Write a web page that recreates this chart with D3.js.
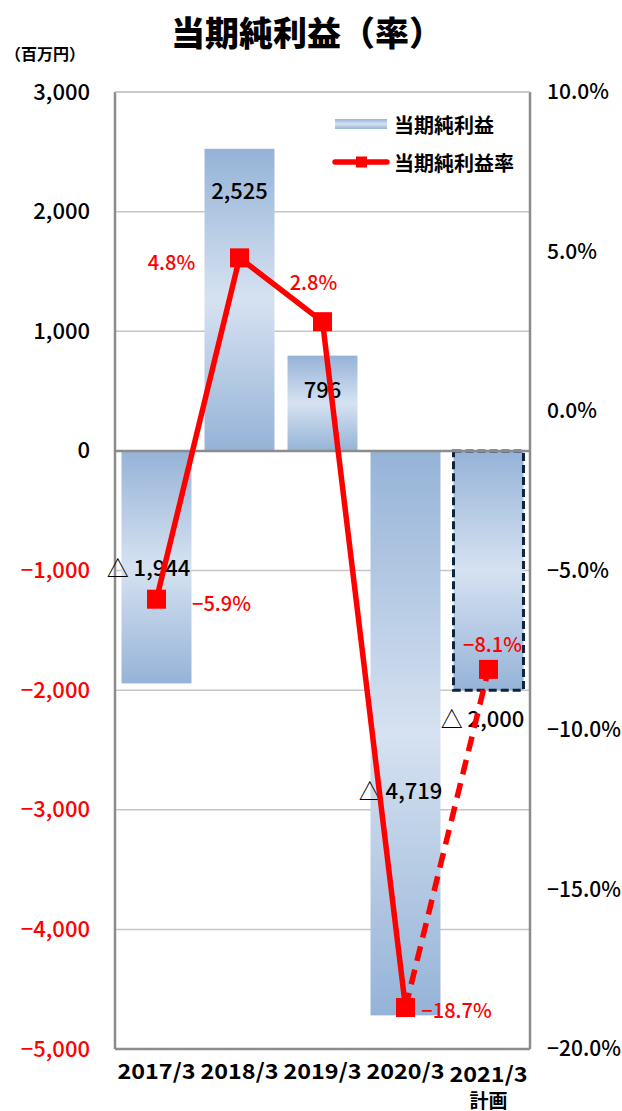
<!DOCTYPE html>
<html>
<head>
<meta charset="utf-8">
<script src="https://cdn.jsdelivr.net/npm/d3@7"></script>
<style>
  body { margin: 0; background: #fff; }
  svg text { font-family: "Noto Sans CJK JP", "Noto Sans", sans-serif; }
</style>
</head>
<body>
<div id="chart"></div>
<script>
// data
const categories = ["2017/3", "2018/3", "2019/3", "2020/3", "2021/3"];
const tickLabels = ["2017/3", "2018/3", "2019/3", "2020/3", "2021/3"];
const subLabels = ["", "", "", "", "計画"];
const netIncome = [-1944, 2525, 796, -4719, -2000];      // 百万円
const netIncomeRate = [-5.9, 4.8, 2.8, -18.7, -8.1];     // %
const incomeLabels = ["△ 1,944", "2,525", "796", "△ 4,719", "△ 2,000"];
const rateLabels = ["−5.9%", "4.8%", "2.8%", "−18.7%", "−8.1%"];
const isPlan = [false, false, false, false, true];
const leftTicks = [3000, 2000, 1000, 0, -1000, -2000, -3000, -4000, -5000];
const rightTicks = [10, 5, 0, -5, -10, -15, -20];

// label nudges (px), hand placed like in the original
const incomeNudge = [[-8, -117], [0, 40], [0, 32], [-5, -226], [-6, 27]];
const rateNudge = [[65, 3], [-68, 4], [-9, -40], [51, 2], [4, -26]];

const W = 622, H = 1111;
const plot = {left: 115, right: 530, top: 92, bottom: 1049};

const svg = d3.select("#chart").append("svg")
  .attr("width", W).attr("height", H);

const defs = svg.append("defs");
const grad = defs.append("linearGradient")
  .attr("id", "barGrad").attr("x1", 0).attr("y1", 0).attr("x2", 0).attr("y2", 1);
grad.append("stop").attr("offset", "0%").attr("stop-color", "#95b3d7");
grad.append("stop").attr("offset", "50%").attr("stop-color", "#d6e2f1");
grad.append("stop").attr("offset", "100%").attr("stop-color", "#95b3d7");

const x = d3.scaleBand()
  .domain(categories)
  .range([plot.left, plot.right])
  .paddingInner(0.157)
  .paddingOuter(0.0785);

const yL = d3.scaleLinear().domain([-5000, 3000]).range([plot.bottom, plot.top]);
const yR = d3.scaleLinear().domain([-20, 10]).range([plot.bottom, plot.top]);

// title
svg.append("text")
  .attr("x", 307).attr("y", 31)
  .attr("text-anchor", "middle").attr("dominant-baseline", "central")
  .attr("font-size", 34).attr("font-weight", 900)
  .text("当期純利益（率）");

svg.append("text")
  .attr("x", 5).attr("y", 53)
  .attr("dominant-baseline", "central")
  .attr("font-size", 16).attr("font-weight", 700)
  .text("（百万円）");

// gridlines
svg.append("g")
  .selectAll("line")
  .data(leftTicks.filter(d => d !== 0 && d !== -5000))
  .join("line")
  .attr("x1", plot.left).attr("x2", plot.right)
  .attr("y1", d => yL(d)).attr("y2", d => yL(d))
  .attr("stroke", "#c6c6c6").attr("stroke-width", 1.5);

// bars
svg.append("g")
  .selectAll("rect")
  .data(categories)
  .join("rect")
  .attr("x", d => x(d))
  .attr("width", x.bandwidth())
  .attr("y", (d, i) => yL(Math.max(0, netIncome[i])))
  .attr("height", (d, i) => Math.abs(yL(netIncome[i]) - yL(0)))
  .attr("fill", "url(#barGrad)")
  .attr("stroke", (d, i) => isPlan[i] ? "#0f243e" : "none")
  .attr("stroke-width", 3)
  .attr("stroke-dasharray", "8,4");

// frame and zero line
const frame = svg.append("g").attr("stroke", "#8c8c8c").attr("stroke-width", 2.5).attr("fill", "none");
frame.append("line").attr("x1", plot.left).attr("x2", plot.left).attr("y1", plot.top).attr("y2", plot.bottom);
frame.append("line").attr("x1", plot.right).attr("x2", plot.right).attr("y1", plot.top).attr("y2", plot.bottom);
frame.append("line").attr("x1", plot.left).attr("x2", plot.right).attr("y1", plot.bottom).attr("y2", plot.bottom);
frame.append("line").attr("x1", plot.left).attr("x2", plot.right).attr("y1", yL(0)).attr("y2", yL(0));
svg.append("line").attr("x1", plot.left).attr("x2", plot.right)
  .attr("y1", plot.top).attr("y2", plot.top)
  .attr("stroke", "#c6c6c6").attr("stroke-width", 1.5);

// bar value labels
svg.append("g")
  .selectAll("text")
  .data(categories)
  .join("text")
  .attr("x", (d, i) => x(d) + x.bandwidth() / 2 + incomeNudge[i][0])
  .attr("y", (d, i) => yL(netIncome[i]) + incomeNudge[i][1])
  .attr("text-anchor", "middle").attr("dominant-baseline", "central")
  .attr("font-size", 22).attr("font-weight", 500)
  .attr("fill", "#000")
  .text((d, i) => incomeLabels[i]);

// rate line
const pts = categories.map((c, i) => [x(c) + x.bandwidth() / 2, yR(netIncomeRate[i])]);
const line = d3.line();
svg.append("path")
  .attr("d", line(pts.slice(0, 4)))
  .attr("fill", "none").attr("stroke", "#ff0000").attr("stroke-width", 5.5)
  .attr("stroke-linejoin", "round");
svg.append("path")
  .attr("d", line(pts.slice(3)))
  .attr("fill", "none").attr("stroke", "#ff0000").attr("stroke-width", 5.5)
  .attr("stroke-dasharray", "15,9");

const ms = 19;
svg.append("g")
  .selectAll("rect")
  .data(pts)
  .join("rect")
  .attr("x", d => d[0] - ms / 2).attr("y", d => d[1] - ms / 2)
  .attr("width", ms).attr("height", ms)
  .attr("fill", "#ff0000");

svg.append("g")
  .selectAll("text")
  .data(pts)
  .join("text")
  .attr("x", (d, i) => d[0] + rateNudge[i][0])
  .attr("y", (d, i) => d[1] + rateNudge[i][1])
  .attr("text-anchor", "middle").attr("dominant-baseline", "central")
  .attr("font-size", 20).attr("font-weight", 500).attr("fill", "#ff0000")
  .text((d, i) => rateLabels[i]);

// axes
const leftAxis = svg.append("g")
  .attr("transform", `translate(${plot.left},0)`)
  .call(d3.axisLeft(yL).tickValues(leftTicks).tickSize(0).tickPadding(25).tickFormat(d3.format(",")));
leftAxis.select(".domain").remove();
leftAxis.selectAll("text")
  .attr("font-size", 22).attr("font-weight", 500)
  .attr("font-family", "\"Noto Sans CJK JP\", sans-serif")
  .attr("fill", d => d < 0 ? "#ff0000" : "#000");

const rightAxis = svg.append("g")
  .attr("transform", `translate(${plot.right},0)`)
  .call(d3.axisRight(yR).tickValues(rightTicks).tickSize(0).tickPadding(17).tickFormat(d => d3.format(".1f")(d) + "%"));
rightAxis.select(".domain").remove();
rightAxis.selectAll("text")
  .attr("font-size", 21).attr("font-weight", 500)
  .attr("font-family", "\"Noto Sans CJK JP\", sans-serif")
  .attr("fill", "#000");

const xAxis = svg.append("g")
  .attr("transform", `translate(0,${plot.bottom})`)
  .call(d3.axisBottom(x).tickSize(0).tickPadding(0).tickFormat(""));
xAxis.select(".domain").remove();
xAxis.selectAll(".tick").each(function(d, i) {
  const g = d3.select(this);
  g.append("text")
    .attr("text-anchor", "middle")
    .attr("font-size", 21).attr("font-weight", 700)
    .attr("fill", "#000")
    .attr("y", subLabels[i] ? 24 : 21)
    .attr("dominant-baseline", "central")
    .attr("textLength", 78).attr("lengthAdjust", "spacingAndGlyphs")
    .text(tickLabels[i]);
  if (subLabels[i]) {
    g.append("text")
      .attr("text-anchor", "middle")
      .attr("font-size", 19).attr("font-weight", 700)
      .attr("fill", "#000")
      .attr("y", 50)
      .attr("dominant-baseline", "central")
      .text(subLabels[i]);
  }
});

// legend
const lg = svg.append("g");
lg.append("rect").attr("x", 335).attr("y", 119).attr("width", 52).attr("height", 10)
  .attr("fill", "url(#barGrad)");
lg.append("text").attr("x", 394).attr("y", 124).attr("dominant-baseline", "central")
  .attr("font-size", 20).attr("font-weight", 700).text("当期純利益");
lg.append("line").attr("x1", 335).attr("x2", 387).attr("y1", 162).attr("y2", 162)
  .attr("stroke", "#ff0000").attr("stroke-width", 5.5).attr("stroke-linecap", "round");
lg.append("rect").attr("x", 356).attr("y", 156.5).attr("width", 11).attr("height", 11)
  .attr("fill", "#ff0000");
lg.append("text").attr("x", 394).attr("y", 162).attr("dominant-baseline", "central")
  .attr("font-size", 20).attr("font-weight", 700).text("当期純利益率");
</script>
</body>
</html>
